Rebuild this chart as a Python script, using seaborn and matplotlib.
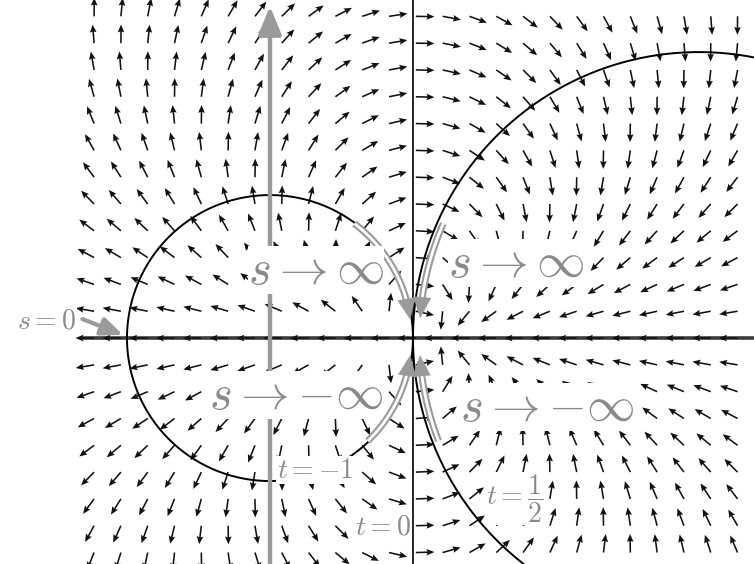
import numpy as np
import pandas as pd
import matplotlib
matplotlib.use("Agg")
import matplotlib.pyplot as plt
import seaborn as sns
from matplotlib.patches import FancyArrowPatch

sns.set_style("white")
plt.rcParams["mathtext.fontset"] = "cm"

# Direction field of z' = -z^2, sampled on a square grid
grid_step = 0.1875
grid_offset = 0.02
grid_cols = np.arange(-12, 13)
grid_rows = np.arange(-8, 13)
arrow_len = 0.13

# Circles through the origin, centred on the real axis
circle_centers = [-1.0, 2.0]
circle_radii = [1.0, 2.0]

# Annotation texts and their anchor points
s_labels = [r"$s\rightarrow\infty$", r"$s\rightarrow{-\infty}$",
            r"$s\rightarrow\infty$", r"$s\rightarrow{-\infty}$"]
s_label_x = [-0.68, -0.82, 0.72, 0.94]
s_label_y = [0.475, -0.40, 0.525, -0.485]
t_labels = [r"$s=0$", r"$t=-1$", r"$t=0$", r"$t=\dfrac{1}{2}$"]
t_label_x = [-2.56, -0.685, -0.21, 0.71]
t_label_y = [0.126, -0.923, -1.32, -1.12]

GRAY = "#9a9a9a"
TEXT_GRAY = "#8a8a8a"

fig = plt.figure(figsize=(7.54, 5.64), dpi=100)
ax = fig.add_axes([0, 0, 1, 1])
ax.set_xlim(-2.888, 2.385)
ax.set_ylim(-1.580, 2.364)
ax.set_aspect("equal")
ax.axis("off")

# field arrows
X, Y = np.meshgrid(grid_cols * grid_step + grid_offset, grid_rows * grid_step)
Z = X + 1j * Y
F = -Z ** 2
mag = np.abs(F)
mask = mag > 1e-9
U = np.where(mask, F.real / np.where(mask, mag, 1), 0) * arrow_len
V = np.where(mask, F.imag / np.where(mask, mag, 1), 0) * arrow_len
ax.quiver(X[mask], Y[mask], U[mask], V[mask], angles="xy", scale_units="xy",
          scale=1, pivot="tail", width=0.0021, headwidth=4.2, headlength=5.0,
          headaxislength=4.4, color="#111111", zorder=3)

# axes of the plane
ax.plot([0, 0], [-1.58, 2.364], color="black", lw=1.2, zorder=2)
ax.plot([-2.31, 2.385], [0, 0], color="#3c3c3c", lw=2.6, zorder=2)

# circles
theta = np.linspace(0, 2 * np.pi, 400)
rows = []
for c, r in zip(circle_centers, circle_radii):
    for th in theta:
        rows.append({"x": c + r * np.cos(th), "y": r * np.sin(th), "circle": f"{c}"})
circ = pd.DataFrame(rows)
sns.lineplot(data=circ, x="x", y="y", units="circle", estimator=None, sort=False,
             color="black", lw=1.4, ax=ax, zorder=4, legend=False)

# vertical gray path along Re z = -1
ax.add_patch(FancyArrowPatch((-1.0, -1.7), (-1.0, 2.34),
                             arrowstyle="-|>,head_length=17,head_width=7",
                             mutation_scale=1, color=GRAY, lw=3.2, zorder=5))

# s = 0 pointer
ax.add_patch(FancyArrowPatch((-2.33, 0.14), (-2.01, 0.015),
                             arrowstyle="-|>,head_length=13,head_width=5.5",
                             mutation_scale=1, color=GRAY, lw=3.0, zorder=5))

# gray double arcs running into the origin
def arc_arrow(center, radius, y_start, y_end, dx):
    ys = np.linspace(y_start, y_end, 60)
    sign = -1 if center < 0 else 1
    xs = center - sign * np.sqrt(radius ** 2 - ys ** 2) + dx
    ax.plot(xs[:-6], ys[:-6], color=GRAY, lw=5.0, zorder=5, solid_capstyle="butt")
    ax.plot(xs[:-7], ys[:-7], color="white", lw=2.0, zorder=5.1, solid_capstyle="butt")
    ax.add_patch(FancyArrowPatch((xs[-12], ys[-12]), (xs[-1], ys[-1]),
                                 arrowstyle="-|>,head_length=15,head_width=6.5",
                                 mutation_scale=1, color=GRAY, lw=0.1, zorder=5.2))

arc_arrow(-1.0, 1.0, 0.80, 0.11, -0.01)
arc_arrow(-1.0, 1.0, -0.72, -0.10, -0.01)
arc_arrow(2.0, 2.0, 0.80, 0.12, 0.045)
arc_arrow(2.0, 2.0, -0.72, -0.10, 0.045)

for txt, x, y in zip(s_labels, s_label_x, s_label_y):
    ax.text(x, y, txt, fontsize=35, color=TEXT_GRAY, ha="center", va="center",
            bbox=dict(fc="white", ec="none", pad=0.0), zorder=6)
for txt, x, y in zip(t_labels, t_label_x, t_label_y):
    ax.text(x, y, txt, fontsize=20, color=TEXT_GRAY, ha="center", va="center",
            bbox=dict(fc="white", ec="none", pad=0.3), zorder=6)

fig.savefig("out.png", dpi=100)
